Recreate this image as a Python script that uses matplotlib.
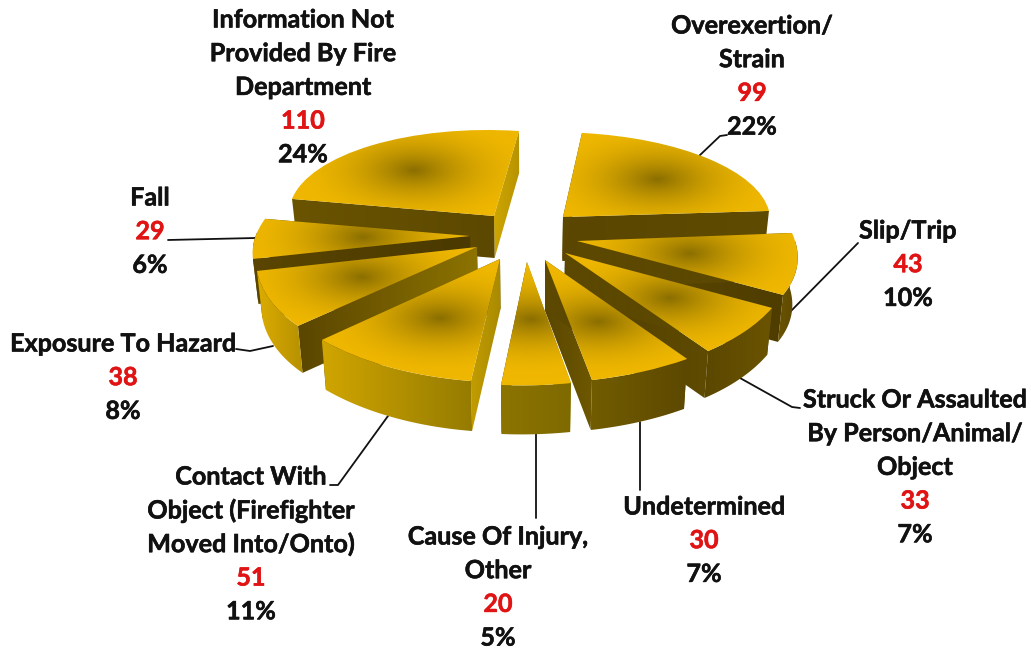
import numpy as np
import matplotlib
matplotlib.use("Agg")
import matplotlib.pyplot as plt
import matplotlib.patheffects as pe
from matplotlib.colors import to_rgb
from matplotlib.patches import Polygon
from matplotlib.transforms import Affine2D

# ---- data ----
names = [
    ["Overexertion/", "Strain"],
    ["Slip/Trip"],
    ["Struck Or Assaulted", "By Person/Animal/", "Object"],
    ["Undetermined"],
    ["Cause Of Injury,", "Other"],
    ["Contact With", "Object (Firefighter", "Moved Into/Onto)"],
    ["Exposure To Hazard"],
    ["Fall"],
    ["Information Not", "Provided By Fire", "Department"],
]
counts = [99, 43, 33, 30, 20, 51, 38, 29, 110]
percents = ["22%", "10%", "7%", "7%", "5%", "11%", "8%", "6%", "24%"]

# ---- layout / style (pixel space) ----
W, H = 1031, 649
START = 84
tips = [(563, 217), (577, 241), (565, 253), (545, 260), (527, 262),
        (500, 259), (477, 247), (470, 236), (494, 216)]
# per-slice projection of the unit pie: x = a*X + b*Y, y_up = g*X + f*Y
proj_a = [207.1, 218.7, 227.9, 249.9, 253.2, 241.8, 218.6, 213.5, 204.8]
proj_b = [-2.7, -30.0, -15.4, 1.1, 4.8, 8.8, 33.5, 41.3, 3.6]
proj_g = [-1.8, -2.0, 5.1, 3.2, 0.4, -7.9, -5.7, -2.2, -4.3]
proj_f = [84.7, 108.1, 123.1, 122.9, 123.4, 123.1, 118.0, 100.4, 85.9]
depth = [44, 47, 47, 50, 49, 50, 47, 45, 42]
focus = [0.65, 0.51, 0.58, 0.55, 0.47, 0.55, 0.56, 0.50, 0.65]
order = [8, 0, 7, 1, 6, 2, 5, 3, 4]
SHRINK, SHRINK_X = 0.98, 527
DARK = "#5c4800"
outer_cols = [(DARK, DARK), ("#6a5300", "#5b4700"), ("#5b4700", "#6b5400"),
              ("#725c00", "#5c4800"), ("#8c7400", "#7f6a00"), ("#d0a500", "#957b00"),
              ("#dcac00", "#b59000"), ("#5a4500", "#5a4500"), ("#c9a200", "#c9a200")]
hi_cols = [(DARK, DARK), (DARK, DARK), (DARK, DARK), (DARK, DARK),
           ("#b09000", "#a38700"), ("#c29c00", "#a88a00"), ("#5a4600", "#8d7300"),
           ("#5a4500", "#4a3900"), ("#6a5400", "#5c4800")]
lo_cols = [("#5a4600", "#5f4b00"), ("#5f4b00", "#4f3d00"), ("#4f3d00", "#5f4b00"),
           ("#5a4600", "#6e5800"), (DARK, DARK), (DARK, DARK), (DARK, DARK),
           (DARK, DARK), ("#cfa600", "#b69300")]
GOLD = np.array(to_rgb("#efb700"))
SHADOW = np.array(to_rgb("#8a6e00"))

label_pos = [(752, 26), (908, 231), (915, 400), (704, 507), (498, 537),
             (251, 477), (123, 344), (150, 198), (303, 20)]
leaders = [
    ([727, 720, 699], [135, 136, 156]),
    ([858, 790], [243, 312]),
    ([740, 792, 800], [378, 407, 408]),
    ([640, 640], [422, 490]),
    ([536, 536], [434, 518]),
    ([388, 338, 330], [416, 485, 485]),
    ([273, 250, 236], [346, 351, 349]),
    ([255, 168], [238, 240]),
]
LINE_H = 33.7

fig = plt.figure(figsize=(W / 100, H / 100), dpi=100)
ax = fig.add_axes([0, 0, 1, 1])
wedges, _ = ax.pie(counts, startangle=START, counterclock=False, radius=1,
                   wedgeprops=dict(facecolor="none", edgecolor="none"))
ax.set_aspect("auto")


def gradient_fill(verts, c0, c1, z):
    verts = np.asarray(verts)
    x0, x1 = verts[:, 0].min(), verts[:, 0].max()
    y0, y1 = verts[:, 1].min(), verts[:, 1].max()
    t = np.linspace(0, 1, 64)[None, :, None]
    img = (1 - t) * np.array(to_rgb(c0)) + t * np.array(to_rgb(c1))
    im = ax.imshow(img, extent=(x0, x1 + 0.5, y1 + 0.5, y0), aspect="auto", zorder=z,
                   interpolation="bilinear")
    poly = Polygon(verts, closed=True, transform=ax.transData, facecolor="none", edgecolor="none")
    im.set_clip_path(poly)


def lowered(pts, d):
    pts = np.array(pts, dtype=float)
    pts[:, 0] = SHRINK_X + (pts[:, 0] - SHRINK_X) * SHRINK
    pts[:, 1] += d
    return pts


z = 5
for i in order:
    w = wedges[i]
    tx, ty = tips[i]
    a, b, g, f = proj_a[i], proj_b[i], proj_g[i], proj_f[i]
    a0, a1 = np.radians(w.theta1), np.radians(w.theta2)
    ang = np.linspace(a0, a1, 120)
    X, Y = np.cos(ang), np.sin(ang)
    pts = np.c_[tx + a * X + b * Y, ty - (g * X + f * Y)]
    d = depth[i]

    # radial faces (numerically low edge = theta1, high edge = theta2)
    for end, cols in ((0, lo_cols[i]), (-1, hi_cols[i])):
        upper = np.array([(tx, ty), pts[end]])
        face = np.r_[upper, lowered(upper, d)[::-1]]
        gradient_fill(face, *cols, z)
        z += 1
    # outer wall: only the front-facing part of the arc
    front = pts[Y < 0.02]
    if len(front) > 1:
        wall = np.r_[front, lowered(front, d)[::-1]]
        gradient_fill(wall, *outer_cols[i], z)
        z += 1

    # top surface: a wedge from the pie with a radial shadow
    aff = Affine2D.from_values(a, -g, b, -f, tx, ty)
    w.set_transform(aff + ax.transData)
    w.set_clip_on(False)
    w.set_zorder(z + 1)
    mid = (a0 + a1) / 2
    mX, mY = focus[i] * np.cos(mid), focus[i] * np.sin(mid)
    fx, fy = tx + a * mX + b * mY, ty - (g * mX + f * mY)
    x0, x1 = pts[:, 0].min() - 30, pts[:, 0].max() + 30
    y0, y1 = pts[:, 1].min() - 30, pts[:, 1].max() + 30
    x0, x1 = min(x0, tx), max(x1, tx)
    y0, y1 = min(y0, ty), max(y1, ty)
    gx, gy = np.meshgrid(np.linspace(x0, x1, 400), np.linspace(y0, y1, 240))
    r = np.sqrt(((gx - fx) / 125.0) ** 2 + ((gy - fy) / 58.0) ** 2)
    m = np.clip(1 - r, 0, 1)[..., None] ** 2
    top = (1 - m) * GOLD + m * SHADOW
    im = ax.imshow(top, extent=(x0, x1, y1, y0), aspect="auto", zorder=z,
                   interpolation="bilinear")
    im.set_clip_path(w)
    z += 2

for xs, ys in leaders:
    ax.plot(xs, ys, color="#111111", lw=1.3, zorder=2, solid_capstyle="round")

font = dict(family="Lato", fontweight="bold", fontsize=18.1, ha="center", va="center", zorder=500)
for lines, c, p, (cx, cy) in zip(names, counts, percents, label_pos):
    y = cy
    for ln in lines:
        ax.text(cx, y, ln, color="#111111", **font,
                path_effects=[pe.withStroke(linewidth=0.4, foreground="#111111")])
        y += LINE_H
    ax.text(cx, y, str(c), color="#e01414", **font,
            path_effects=[pe.withStroke(linewidth=0.4, foreground="#e01414")])
    y += LINE_H
    ax.text(cx, y, p, color="#111111", **font,
            path_effects=[pe.withStroke(linewidth=0.4, foreground="#111111")])

ax.set_xlim(0, W)
ax.set_ylim(H, 0)
ax.axis("off")
fig.savefig("out.png", dpi=100, facecolor="white")
